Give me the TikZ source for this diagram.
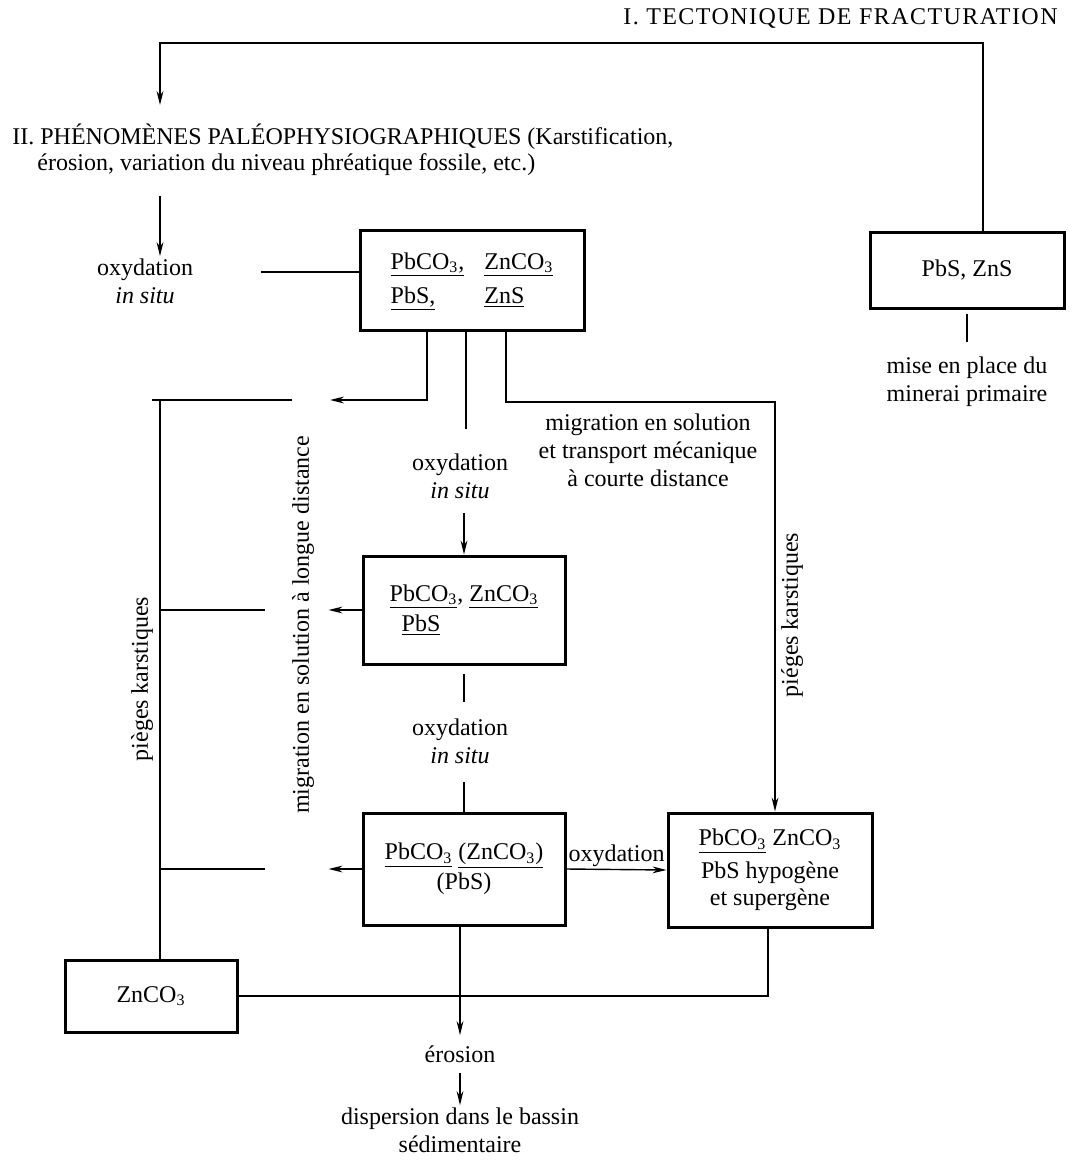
\documentclass[tikz,border=0pt]{standalone}
\usepackage{fontspec}
\setmainfont{Liberation Serif}
\usetikzlibrary{arrows.meta}

\newcommand{\carb}[1]{#1CO\textsubscript{3}}

\tikzset{
  bloc/.style={draw, line width=1.5pt, align=center, inner sep=0pt, font=\fontsize{12}{15}\selectfont},
  texte/.style={align=center, inner sep=1pt, font=\fontsize{12}{14}\selectfont},
  trait/.style={line width=0.7pt},
  fleche/.style={trait, -{Stealth[length=7pt,width=3.4pt]}},
}

\begin{document}
\begin{tikzpicture}[x=0.5pt,y=-0.5pt]
\useasboundingbox (0,0) rectangle (1090,1161);

% titres
\node[texte, anchor=base east] (tecto) at (1060,25) {{\addfontfeature{LetterSpace=6}I. TECTONIQUE DE FRACTURATION}};
\node[texte, anchor=base west] (phen) at (10,144) {II. PHÉNOMÈNES PALÉOPHYSIOGRAPHIQUES (Karstification,};
\node[texte, anchor=base west] (phen2) at (35,170) {érosion, variation du niveau phréatique fossile, etc.)};

% boites
\node[bloc, minimum width=97pt, minimum height=38pt] (pbs) at (967,270) {PbS, ZnS};
\node[bloc, minimum width=112pt, minimum height=50pt] (ox1) at (472,280) {%
  \begin{tabular}{@{}l@{\hspace{10pt}}l@{}}
  \underline{\carb{Pb},} & \underline{\carb{Zn}}\\[2pt]
  \underline{PbS,} & \underline{ZnS}
  \end{tabular}};
\node[bloc, minimum width=101pt, minimum height=54pt] (ox2) at (464,610) {%
  \begin{tabular}{@{}l@{}}
  \underline{\carb{Pb}}, \underline{\carb{Zn}}\\
  \hspace{6pt}\underline{PbS}
  \end{tabular}};
\node[bloc, minimum width=101pt, minimum height=56pt] (ox3) at (464,869) {\underline{\carb{Pb}} \underline{(\carb{Zn})}\\(PbS)};
\node[bloc, minimum width=102pt, minimum height=57pt, font=\fontsize{12}{13.5}\selectfont] (sup) at (770,870) {\underline{\carb{Pb}} \carb{Zn}\\[3pt]PbS hypogène\\et supergène};
\node[bloc, minimum width=86pt, minimum height=36pt] (zn) at (151,996) {\carb{Zn}};

% legendes
\node[texte] (oxg) at (145,281) {oxydation\\\textit{in situ}};
\node[texte] (prim) at (967,382) {mise en place du\\minerai primaire};
\node[texte] (oxm1) at (460,476) {oxydation\\\textit{in situ}};
\node[texte] (court) at (648,450) {migration en solution\\et transport mécanique\\à courte distance};
\node[texte] (oxm2) at (460,741) {oxydation\\\textit{in situ}};
\node[texte] (eros) at (460,1054) {érosion};
\node[texte] (disp) at (460,1130) {dispersion dans le bassin\\sédimentaire};
\node[texte, rotate=90] (migl) at (303,625) {migration en solution à longue distance};
\node[texte, rotate=90] (piegG) at (142,679) {pièges karstiques};
\node[texte, rotate=90] (piegD) at (792,615) {piéges karstiques};

% connexions
\coordinate (coinG) at (160,43);
\coordinate (m1) at (330,400);
\coordinate (k1) at (292,400);
\coordinate (k0) at (152,400);
\coordinate (d1) at (775,402);

\draw[fleche] ([xshift=8pt]pbs.north) |- (coinG) -- ([yshift=8pt]phen.north -| coinG);
\draw[fleche] ([yshift=-9pt]phen2.south -| coinG) -- (oxg.north -| coinG);
\draw[trait] ([yshift=4pt]ox1.west) -- ++(-98,0);
\draw[trait, shorten <=2pt] (pbs.south) -- ++(0,32);

\draw[fleche] ([xshift=-22.5pt]ox1.south) |- (m1);
\draw[trait] (k1) -- (k0);
\draw[trait] (k0 -| coinG) -- (zn.north -| coinG);
\draw[fleche] (ox2.west) -- ++(-33,0);
\draw[trait] (ox2.west -| coinG) -- ++(105,0);
\draw[fleche] (ox3.west) -- ++(-33,0);
\draw[trait] (ox3.west -| coinG) -- ++(105,0);

\draw[trait] ([xshift=-3pt]ox1.south) -- ++(0,97);
\draw[fleche] ([yshift=-6pt]oxm1.south -| ox2.north) -- (ox2.north);
\draw[fleche] ([xshift=17pt]ox1.south) |- (d1) -- (sup.north -| d1);

\draw[trait] ([yshift=-4pt]ox2.south) -- ++(0,28);
\draw[trait] ([yshift=-8pt]oxm2.south -| ox3.north) -- (ox3.north);
\draw[fleche] (ox3.east) -- (sup.west) node[texte, midway, above] (oxlat) {oxydation};

\draw[trait] ([xshift=-1pt]sup.south) |- (zn.east);
\draw[fleche] (ox3.south -| eros.north) -- ([yshift=4pt]eros.north);
\draw[fleche] ([yshift=-4pt]eros.south) -- (disp.north);
\end{tikzpicture}
\end{document}
